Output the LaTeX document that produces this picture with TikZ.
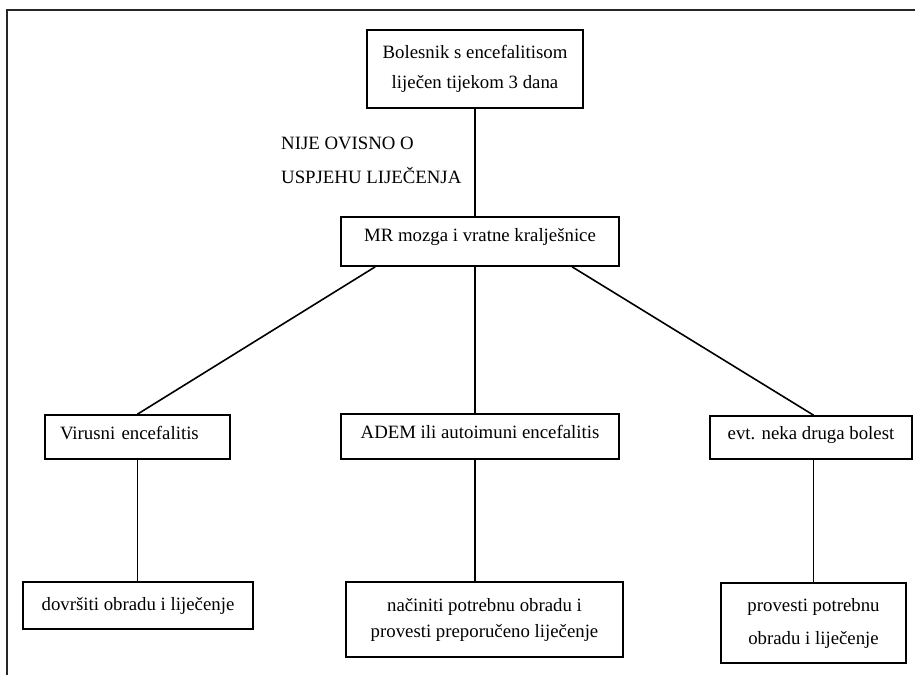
\documentclass[tikz,border=0pt]{standalone}
\usepackage{fontspec}
\setmainfont{Liberation Serif}
\usetikzlibrary{calc}
\begin{document}
\begin{tikzpicture}[x=1pt,y=-1pt,
  box/.style={draw=black,line width=1.7pt,inner sep=0pt,align=center,
    font=\fontsize{18.8}{30}\selectfont},
  oneline/.style={text height=9pt,text depth=5pt},
  conn/.style={draw=black,line width=1.6pt},
  frameline/.style={draw=black!85,line width=1.6pt},
  lbl/.style={inner sep=0pt,align=left,font=\fontsize{18.8}{34}\selectfont}]
\useasboundingbox (0,0) rectangle (915,675);
% frame
\coordinate (fTL) at (7,10);
\coordinate (fTR) at (915,10);
\coordinate (fBL) at (7,675);
\draw[frameline] (fTR) -- (fTL) -- (fBL);
% boxes
\node[box,minimum width=216pt,minimum height=78pt] (top) at (475,69)
  {Bolesnik s encefalitisom\\liječen tijekom 3 dana};
\node[box,minimum width=278pt,minimum height=49pt,text height=7pt,text depth=7pt] (mr) at (480,241.5)
  {MR mozga i vratne kralješnice};
\node[box,oneline,minimum height=44pt,text width=155pt,inner xsep=15pt,align=left] (vir) at (137.5,437)
  {Virusni encefalitis};
\node[box,oneline,minimum width=278pt,minimum height=45pt] (adem) at (480,436.5)
  {ADEM ili autoimuni encefalitis};
\node[box,oneline,minimum width=202pt,minimum height=43pt] (evt) at (811,437.5)
  {evt. neka druga bolest};
\node[box,minimum width=230pt,minimum height=47pt] (dov) at (138,605.5)
  {dovršiti obradu i liječenje};
\node[box,minimum width=277pt,minimum height=75pt,font=\fontsize{18.8}{26}\selectfont] (nac) at (484.5,619.5)
  {načiniti potrebnu obradu i\\provesti preporučeno liječenje};
\node[box,minimum width=185pt,minimum height=80pt,font=\fontsize{18.8}{33}\selectfont] (prov) at (813.5,623)
  {provesti potrebnu\\obradu i liječenje};
% label
\node[lbl,anchor=north west] (note) at (281,136.5) {NIJE OVISNO O\\USPJEHU LIJEČENJA};
% connectors
\coordinate (mL) at ($(mr.south west)+(35,0)$);
\coordinate (mM) at ($(mr.south west)+(135,0)$);
\coordinate (mR) at ($(mr.south west)+(232,0)$);
\draw[conn] (top.south -| mM) -- (mr.north -| mM);
\draw[conn] (mL) -- (vir.north);
\draw[conn] (mM) -- (adem.north -| mM);
\draw[conn] (mR) -- (evt.north -| prov.north);
\draw[conn] (vir.south) -- (dov.north -| vir.south);
\draw[conn] (adem.south -| mM) -- (nac.north -| mM);
\draw[conn] (evt.south -| prov.north) -- (prov.north);
\end{tikzpicture}
\end{document}
